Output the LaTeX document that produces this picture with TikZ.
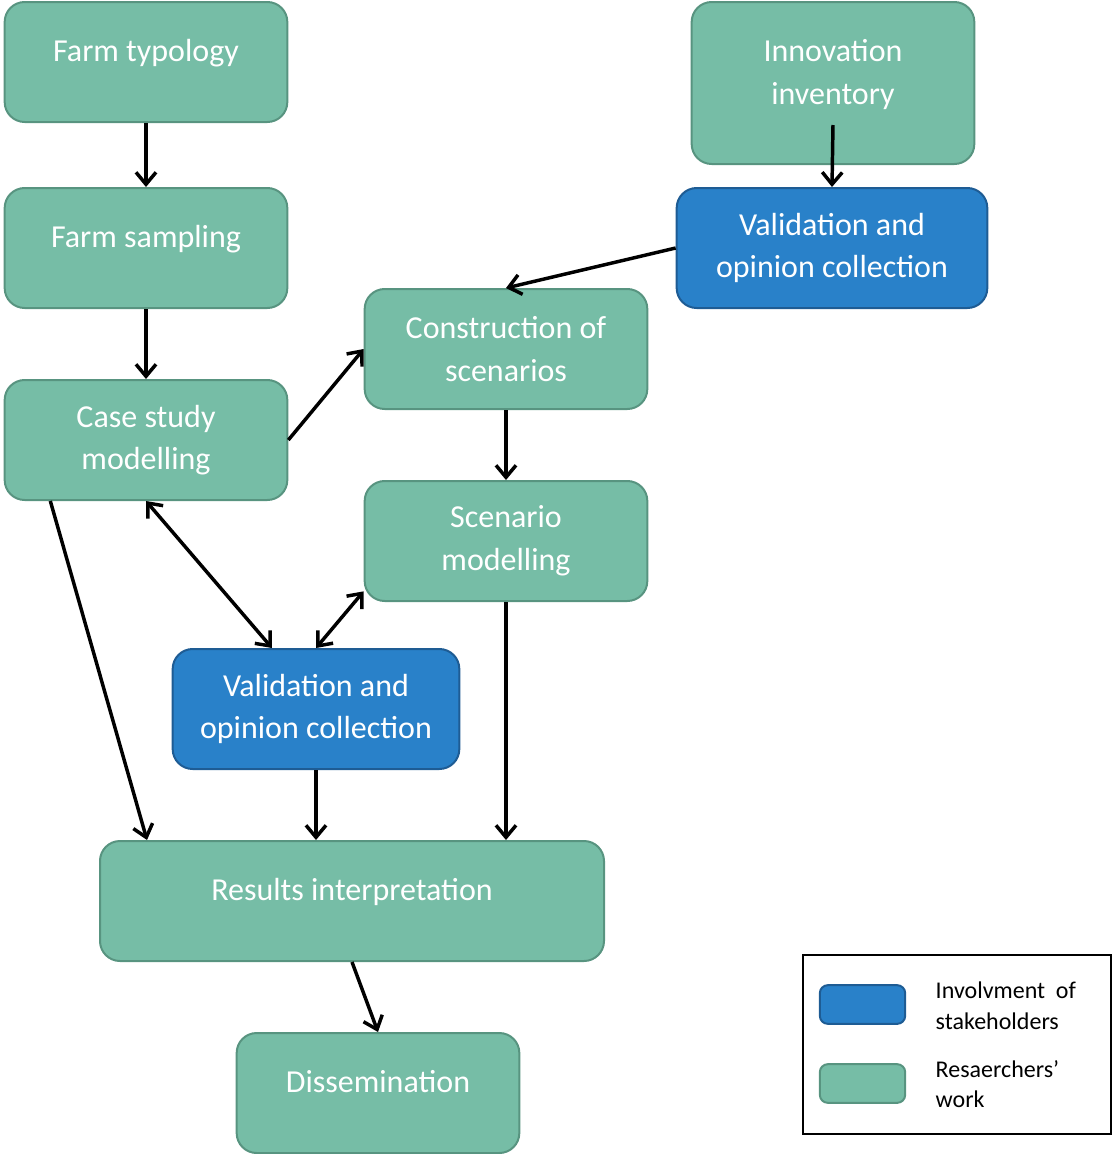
\documentclass[tikz,border=0pt]{standalone}
\usepackage{fontspec}
\setmainfont{Carlito}
\usepackage{xcolor}
\usetikzlibrary{arrows.meta, positioning, calc}
\definecolor{rwgreen}{RGB}{118,189,166}
\definecolor{rwline}{RGB}{88,148,128}
\definecolor{stblue}{RGB}{41,129,201}
\definecolor{stline}{RGB}{30,92,148}
\tikzset{
  work/.style={draw=rwline, fill=rwgreen, line width=1.5pt, rounded corners=15pt,
    text=white, align=center, font=\fontsize{24}{32}\selectfont,
    minimum width=212pt, minimum height=90pt, inner sep=0pt},
  stake/.style={work, draw=stline, fill=stblue},
  lift/.style={text depth=17pt},
  legtext/.style={anchor=west, align=left, inner sep=0pt, font=\fontsize{18}{23}\selectfont}
}
\begin{document}
\begin{tikzpicture}[x=0.75pt,y=-0.75pt,line width=2.6pt,>={Straight Barb[length=9pt,width=15pt]}]
\useasboundingbox (0,0) rectangle (1112,1154);
% Farm side
\node[work,lift] (typ) at (146,62) {Farm typology};
\node[work,lift] (samp) at (146,248) {Farm sampling};
\node[work] (cs) at (146,440) {Case study\\modelling};

% Innovation side
\node[work,lift,minimum height=121.5pt] (inv) at (833,83) {Innovation\\inventory};
\node[stake,minimum width=233pt] (val1) at (832,248) {Validation and\\opinion collection};
\node[work] (cons) at (506,349) {Construction of\\scenarios};
\node[work] (scen) at (506,541) {Scenario\\modelling};

% Joint part
\node[stake,minimum width=215pt] (val2) at (316,709) {Validation and\\opinion collection};
\node[work,lift,minimum width=378pt] (res) at (352,901) {Results interpretation};
\node[work,lift] (diss) at (378,1093) {Dissemination};

% Arrows
\draw[->] (typ.south) -- (samp.north);
\draw[->] (samp.south) -- (cs.north);
\draw[->] ([yshift=30pt]inv.south) -- (val1.north);
\draw[->] (val1.west) -- (cons.north);
\draw[->] (cs.east) -- (cons.west);
\draw[->] (cons.south) -- (scen.north);
\draw[<->] (cs.south) -- ([xshift=-33pt]val2.north);
\draw[<->] ([yshift=8pt]scen.south west) -- (val2.north);
\draw[->] ([xshift=35pt]cs.south west) -- ([xshift=36pt]res.north west);
\draw[->] (val2.south) -- (val2.south |- res.north);
\draw[->] (scen.south) -- (scen.south |- res.north);
\draw[->] (res.south) -- (diss.north);

% Legend
\node[draw,line width=1.1pt,minimum width=231pt,minimum height=134pt,inner sep=0pt] (leg) at (957,1044.5) {};
\node[stake,minimum width=64pt,minimum height=29pt,rounded corners=6pt] (keyS) at (862.5,1004.5) {};
\node[work,minimum width=64pt,minimum height=29pt,rounded corners=6pt] (keyR) at (862.5,1083.5) {};
\node[legtext] (keyStxt) at (934,1006) {Involvment~ of\\stakeholders};
\node[legtext] (keyRtxt) at (934,1084) {Resaerchers'\\work};
\end{tikzpicture}
\end{document}
